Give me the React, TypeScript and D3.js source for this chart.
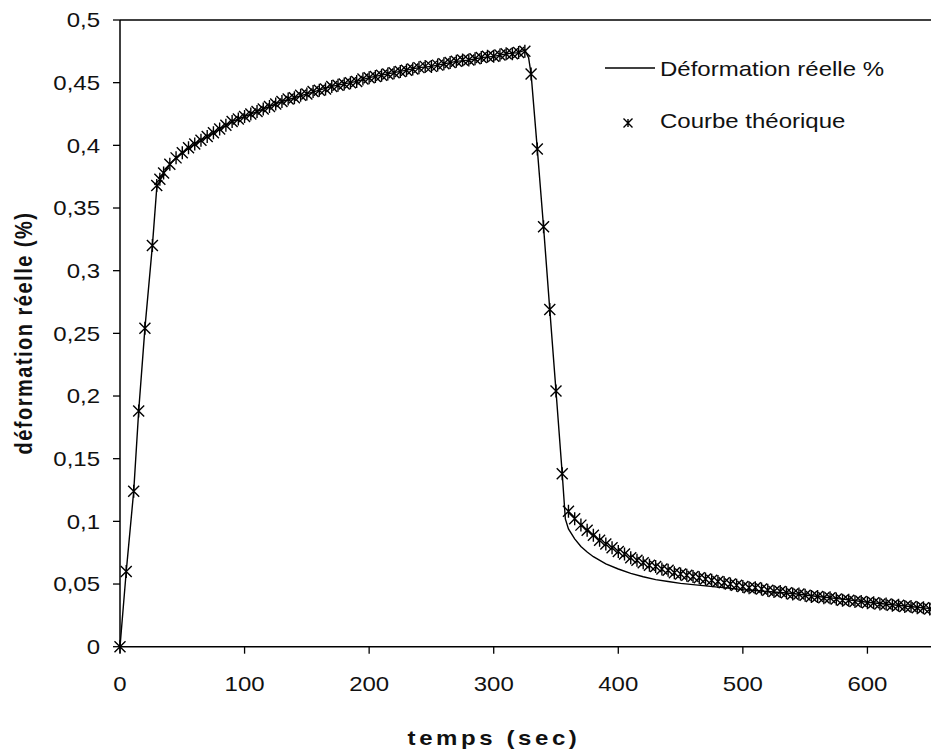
import React from 'react';
import * as d3 from 'd3';

const W = 931;
const H = 754;

const xTickValues = [0, 100, 200, 300, 400, 500, 600, 700];
const xTickLabels = ['0', '100', '200', '300', '400', '500', '600', ''];
const yTickValues = [0, 0.05, 0.1, 0.15, 0.2, 0.25, 0.3, 0.35, 0.4, 0.45, 0.5];
const yTickLabels = ['0', '0,05', '0,1', '0,15', '0,2', '0,25', '0,3', '0,35', '0,4', '0,45', '0,5'];

const seriesNames = ['Déformation réelle %', 'Courbe théorique'];
const xTitle = 'temps (sec)';
const yTitle = 'déformation réelle (%)';

// Courbe théorique (markers)
const theoTime = [
  0, 5, 11, 15, 20, 26, 29.5, 32, 35, 40, 45, 50, 55, 60, 65, 70, 75, 80, 85, 90, 95,
  100, 105, 110, 115, 120, 125, 130, 135, 140, 145, 150, 155, 160, 165, 170, 175, 180, 185, 190, 195,
  200, 205, 210, 215, 220, 225, 230, 235, 240, 245, 250, 255, 260, 265, 270, 275, 280, 285, 290, 295,
  300, 305, 310, 315, 320, 325, 330, 335, 340, 345, 350, 355, 360, 365, 370, 375, 380, 385, 390, 395,
  400, 405, 410, 415, 420, 425, 430, 435, 440, 445, 450, 455, 460, 465, 470, 475, 480, 485, 490, 495,
  500, 505, 510, 515, 520, 525, 530, 535, 540, 545, 550, 555, 560, 565, 570, 575, 580, 585, 590, 595,
  600, 605, 610, 615, 620, 625, 630, 635, 640, 645, 650, 655,
];
const theoValue = [
  0, 0.060, 0.124, 0.188, 0.254, 0.320, 0.368, 0.373, 0.378, 0.385, 0.390, 0.394, 0.398, 0.401, 0.404, 0.407, 0.410, 0.413, 0.416, 0.419, 0.421,
  0.423, 0.425, 0.427, 0.429, 0.431, 0.433, 0.435, 0.437, 0.438, 0.440, 0.441, 0.443, 0.444, 0.445, 0.447, 0.448, 0.449, 0.450, 0.451, 0.453,
  0.454, 0.455, 0.456, 0.457, 0.458, 0.459, 0.460, 0.461, 0.462, 0.463, 0.463, 0.464, 0.465, 0.466, 0.467, 0.468, 0.468, 0.469, 0.470, 0.471,
  0.471, 0.472, 0.473, 0.473, 0.474, 0.475, 0.457, 0.397, 0.335, 0.269, 0.204, 0.138, 0.108, 0.102, 0.097, 0.093, 0.089, 0.085, 0.082, 0.079,
  0.076, 0.074, 0.071, 0.069, 0.067, 0.065, 0.064, 0.062, 0.061, 0.059, 0.058, 0.057, 0.056, 0.055, 0.054, 0.053, 0.052, 0.051, 0.050, 0.049,
  0.048, 0.047, 0.047, 0.046, 0.045, 0.044, 0.044, 0.043, 0.042, 0.042, 0.041, 0.040, 0.040, 0.039, 0.039, 0.038, 0.037, 0.037, 0.036, 0.036,
  0.035, 0.035, 0.034, 0.034, 0.033, 0.033, 0.032, 0.032, 0.031, 0.031, 0.030, 0.030,
];

// Déformation réelle % (solid line)
const measTime = [
  0, 5, 11, 15, 20, 26, 29.5, 32, 35, 40, 45, 50, 60, 70, 80, 90, 100, 110, 120, 130, 140, 150, 160, 170, 180, 190,
  200, 210, 220, 230, 240, 250, 260, 270, 280, 290, 300, 310, 320, 325, 328, 330, 335, 340, 345, 350, 355, 357.5,
  360, 365, 370, 375, 380, 390, 400, 410, 420, 430, 440, 450, 460, 470, 480, 490, 500, 520, 540, 560, 580, 600,
  620, 640, 660,
];
const measValue = [
  0, 0.060, 0.124, 0.188, 0.254, 0.320, 0.366, 0.372, 0.378, 0.385, 0.390, 0.394, 0.401, 0.407, 0.413, 0.419, 0.423, 0.427, 0.431, 0.435, 0.438, 0.441, 0.444, 0.447, 0.449, 0.451,
  0.454, 0.456, 0.458, 0.460, 0.462, 0.463, 0.465, 0.467, 0.468, 0.470, 0.471, 0.473, 0.474, 0.476, 0.470, 0.457, 0.397, 0.335, 0.269, 0.204, 0.138, 0.102,
  0.094, 0.086, 0.080, 0.0755, 0.0718, 0.066, 0.062, 0.0585, 0.0558, 0.0535, 0.052, 0.0505, 0.0495, 0.0485, 0.0475, 0.0465, 0.0455, 0.044, 0.0425, 0.040, 0.038, 0.0355,
  0.0335, 0.0315, 0.0295,
];

const FONT = '"Liberation Sans", Arial, Helvetica, sans-serif';

export default function App() {
  const x = d3.scaleLinear().domain([0, 700]).range([120, 992]);
  const y = d3.scaleLinear().domain([0, 0.5]).range([646.7, 20]);
  const x0 = x(0);
  const yb = y(0);
  const yt = y(0.5);

  const line = d3
    .line<number>()
    .x((_, i) => x(measTime[i]))
    .y((v) => y(v));

  const star = (s: number, v: number) =>
    `M${-s},${-s}L${s},${s}M${-s},${s}L${s},${-s}M0,${-v}L0,${v}`;

  return (
    <svg
      width={W}
      height={H}
      style={{ position: 'absolute', left: 0, top: 0, background: '#fff' }}
      fontFamily={FONT}
    >
      <rect x={0} y={0} width={W} height={H} fill="#fff" />
      <defs>
        <clipPath id="plotclip">
          <rect x={x0 - 10} y={yt - 10} width={W} height={yb - yt + 20} />
        </clipPath>
      </defs>

      {/* frame */}
      <line x1={x0} x2={W} y1={yt} y2={yt} stroke="#000" strokeWidth={1.5} />
      <line x1={x0} x2={W} y1={yb} y2={yb} stroke="#000" strokeWidth={1.5} />
      <line x1={x0} x2={x0} y1={yt} y2={yb} stroke="#000" strokeWidth={1.5} />

      {/* y ticks */}
      {yTickValues.map((v, i) => (
        <g key={'yt' + i}>
          <line x1={x0 - 7} x2={x0} y1={y(v)} y2={y(v)} stroke="#000" strokeWidth={1.3} />
          <text
            transform={`translate(100,${y(v)}) scale(1.2,1)`}
            textAnchor="end"
            dy="0.36em"
            fontSize={20}
            fill="#111"
          >
            {yTickLabels[i]}
          </text>
        </g>
      ))}

      {/* x ticks */}
      {xTickValues.map((v, i) => (
        <g key={'xt' + i}>
          <line x1={x(v)} x2={x(v)} y1={yb} y2={yb + 7} stroke="#000" strokeWidth={1.3} />
          {xTickLabels[i] ? (
            <text
              transform={`translate(${x(v)},691) scale(1.2,1)`}
              textAnchor="middle"
              fontSize={20}
              fill="#111"
            >
              {xTickLabels[i]}
            </text>
          ) : null}
        </g>
      ))}

      {/* titles */}
      <text
        transform="translate(494,745) scale(1.2,1)"
        textAnchor="middle"
        fontSize={20}
        fontWeight="bold"
        letterSpacing={3}
        fill="#111"
      >
        {xTitle}
      </text>
      <text
        transform="translate(32,333) scale(1.2,1) rotate(-90)"
        textAnchor="middle"
        fontSize={20}
        fontWeight="bold"
        letterSpacing={1.5}
        fill="#111"
      >
        {yTitle}
      </text>

      <g clipPath="url(#plotclip)">
        <path d={line(measValue) || ''} fill="none" stroke="#000" strokeWidth={1.4} />
        {theoValue.map((v, i) => (
          <path
            key={'m' + i}
            transform={`translate(${x(theoTime[i])},${y(v)})`}
            d={star(5.5, 6.5)}
            fill="none"
            stroke="#000"
            strokeWidth={1.4}
          />
        ))}
      </g>

      {/* legend */}
      <line x1={605} x2={655} y1={68} y2={68} stroke="#000" strokeWidth={1.4} />
      <text transform="translate(660,76) scale(1.2,1)" fontSize={20} fill="#111">
        {seriesNames[0]}
      </text>
      <path transform="translate(628,123)" d={star(4.5, 4)} fill="none" stroke="#000" strokeWidth={1.4} />
      <text transform="translate(660,128) scale(1.2,1)" fontSize={20} fill="#111">
        {seriesNames[1]}
      </text>
    </svg>
  );
}
